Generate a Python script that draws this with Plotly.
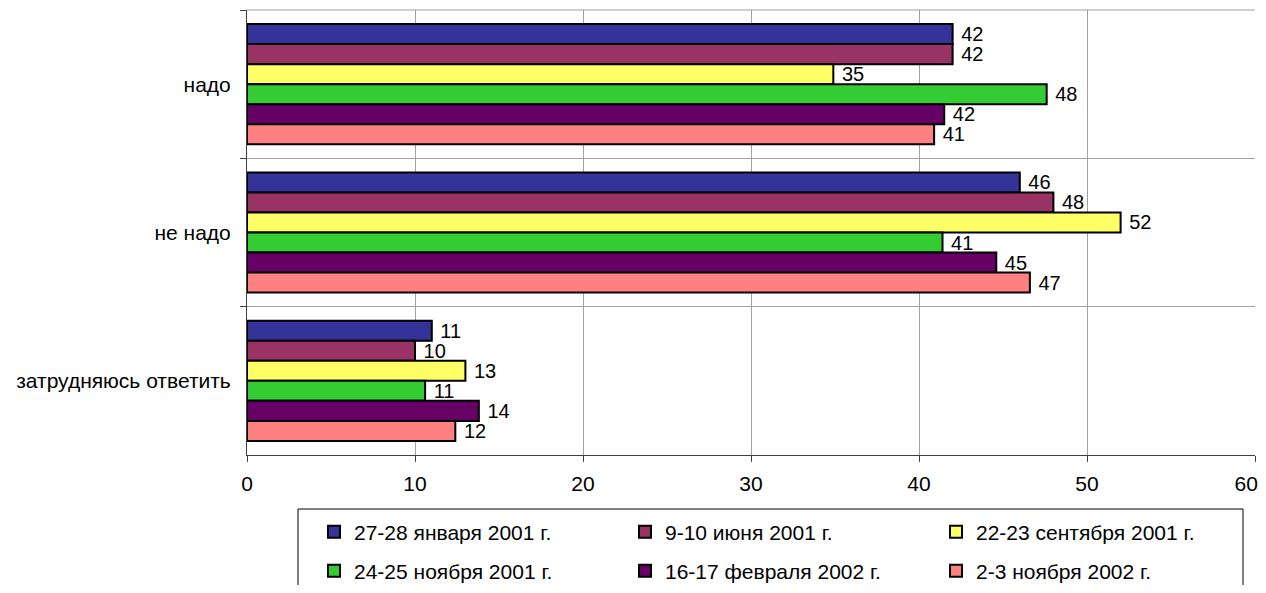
import plotly.graph_objects as go

categories = ["надо", "не надо", "затрудняюсь ответить"]
series_names = [
    "27-28 января 2001 г.",
    "9-10 июня 2001 г.",
    "22-23 сентября 2001 г.",
    "24-25 ноября 2001 г.",
    "16-17 февраля 2002 г.",
    "2-3 ноября 2002 г.",
]
jan_2001 = [42.0, 46.0, 11.0]
jun_2001 = [42.0, 48.0, 10.0]
sep_2001 = [34.9, 52.0, 13.0]
nov_2001 = [47.6, 41.4, 10.6]
feb_2002 = [41.5, 44.6, 13.8]
nov_2002 = [40.9, 46.6, 12.4]
x_ticks = [0, 10, 20, 30, 40, 50, 60]
x_tick_labels = ["0", "10", "20", "30", "40", "50", "60"]

series_values = [jan_2001, jun_2001, sep_2001, nov_2001, feb_2002, nov_2002]
colors = ["#333399", "#993366", "#FFFF66", "#33CC33", "#660066", "#FF8080"]

FONT = "Arial, 'Liberation Sans', sans-serif"
FS = 21

# The page body has an 8px margin on every side; keep the figure inside the
# window so that no scrollbar appears.
OFF = 8
FIG_W, FIG_H = 1266 - OFF, 593 - 2 * OFF

fig = go.Figure()
for i, (name, vals, col) in enumerate(zip(series_names, series_values, colors)):
    fig.add_trace(go.Bar(
        y=categories, x=vals, name=name, orientation="h",
        marker=dict(color=col, line=dict(color="black", width=2)),
        texttemplate="\u00a0%{x:.0f}", textposition="outside",
        textfont=dict(size=20, color="black", family=FONT),
        constraintext="none", cliponaxis=False,
        legend="legend" if i < 3 else "legend2",
        hoverinfo="x+name",
    ))

# plot area, in figure pixels
W0, W1 = 247 - OFF, 1255 - OFF
T0, B0 = 10 - OFF, 455 - OFF


def px_x(p):
    return (p - OFF - W0) / (W1 - W0)


def px_y(p):
    return (B0 - (p - OFF)) / (B0 - T0)


# the last tick label sits pulled in from the right edge, as in the reference
tick_text = x_tick_labels[:-1] + [x_tick_labels[-1] + "\u00a0\u00a0\u00a0"]

legend_common = dict(
    orientation="h", xanchor="left", yanchor="middle",
    entrywidth=266, entrywidthmode="pixels",
    bgcolor="rgba(0,0,0,0)", borderwidth=0,
    font=dict(size=FS, family=FONT, color="black"),
    traceorder="normal",
)

fig.update_layout(
    width=FIG_W, height=FIG_H,
    margin=dict(l=W0, r=FIG_W - W1, t=T0, b=FIG_H - B0, pad=0, autoexpand=False),
    paper_bgcolor="white", plot_bgcolor="white",
    barmode="group", bargap=0.19, bargroupgap=0,
    font=dict(family=FONT, size=FS, color="black"),
    showlegend=True,
    legend=dict(x=px_x(314), y=px_y(532), **legend_common),
    legend2=dict(x=px_x(314), y=px_y(571), **legend_common),
    xaxis=dict(
        range=[0, 60], tickvals=x_ticks, ticktext=tick_text,
        showgrid=True, gridcolor="#A0A0A0", gridwidth=1,
        showline=True, linecolor="#404040", linewidth=1,
        ticks="outside", ticklen=6, tickcolor="#404040",
        ticklabelstandoff=4, zeroline=False, automargin=False,
        ticklabeloverflow="allow",
        tickfont=dict(size=FS, family=FONT, color="black"),
        fixedrange=True,
    ),
    yaxis=dict(
        autorange="reversed", type="category",
        tickson="boundaries", ticks="outside", ticklen=6, tickcolor="#404040",
        showgrid=True, gridcolor="#A0A0A0", gridwidth=1,
        showline=True, linecolor="#404040", linewidth=1,
        ticklabelstandoff=11, automargin=False,
        ticklabeloverflow="allow",
        tickfont=dict(size=FS, family=FONT, color="black"),
        fixedrange=True,
    ),
    shapes=[
        dict(
            type="line", xref="paper", yref="paper",
            x0=0, x1=1, y0=1, y1=1,
            line=dict(color="#A0A0A0", width=1), layer="below",
        ),
        dict(
            type="rect", xref="paper", yref="paper",
            x0=px_x(298), x1=px_x(1243), y0=px_y(509), y1=px_y(620),
            line=dict(color="black", width=1), fillcolor="rgba(0,0,0,0)",
            layer="above",
        ),
    ],
)

fig.write_html("out.html")
